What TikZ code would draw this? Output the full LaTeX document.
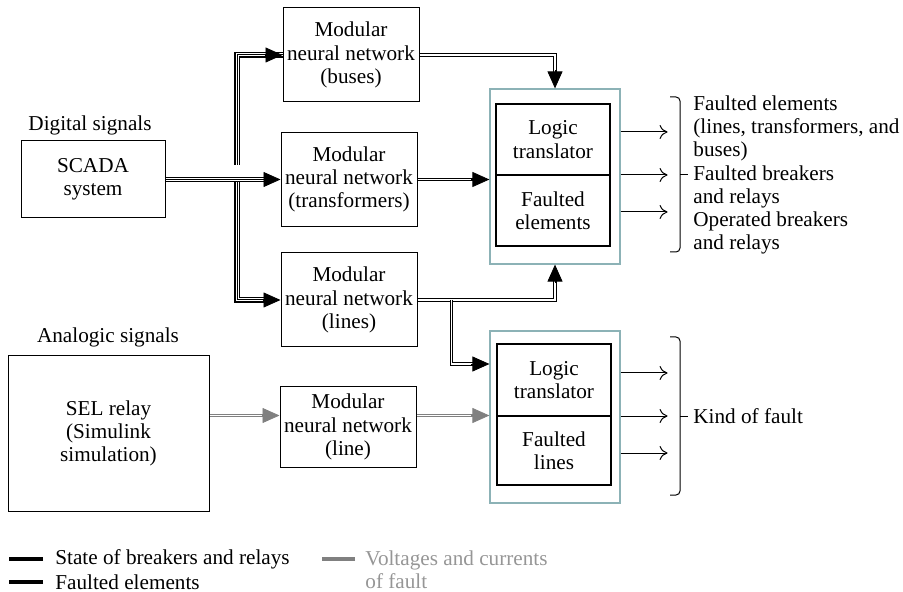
\documentclass[tikz,border=0pt]{standalone}
\usepackage{fontspec}
\setmainfont{Liberation Serif}
\usetikzlibrary{arrows.meta}

\definecolor{framecol}{RGB}{140,178,182}
\definecolor{analogcol}{RGB}{128,128,128}
\definecolor{legcol}{RGB}{150,150,150}

\begin{document}
\begin{tikzpicture}[x=0.5pt, y=-0.5pt,
		font=\fontsize{10.6}{11.6}\selectfont,
		lbl/.style={inner sep=0pt},
		mnn/.style={draw, line width=0.5pt, align=center, inner sep=0pt, minimum width=68pt, minimum height=47pt},
		frame/.style={draw=framecol, line width=0.6pt, inner sep=0pt, minimum width=65pt},
		inbox/.style={draw, line width=0.7pt, align=center, inner sep=0pt, minimum width=57pt},
		triple/.style={line width=2.6pt, shorten >=7pt, postaction={draw=white, line width=1.5pt}, postaction={draw=black, line width=0.5pt}},
		dbl/.style={double, double distance=0.9pt, line width=0.5pt, shorten >=7pt},
		gdbl/.style={dbl, draw=analogcol},
		head/.style={-{Triangle[length=8.5pt, width=7.5pt]}, line width=0.4pt},
		ghead/.style={head, draw=analogcol},
		outarr/.style={-{To[length=4pt, width=7pt]}, line width=0.5pt},
		legline/.style={line width=2pt}
	]
		\useasboundingbox (0,0) rectangle (903,592);
		
		\newcommand\sidebrace[4]{ %% argument 1: x-position, 2: top, 3: bottom, 4: tip
			\draw[line width=0.5pt, rounded corners=2pt] (#1,#2) -| (#1+10,#4) |- (#1,#3);
			\draw[line width=0.5pt] (#1+10,#4) -- ++(8,0);
		}
		
		%% sources
		\node[lbl] (diglbl) at (90,125) {Digital signals};
		\node[draw, line width=0.5pt, align=center, minimum width=72pt, minimum height=38.5pt] (scada) at (93,179.5) {SCADA\\system};
		\node[lbl] (analbl) at (108,337) {Analogic signals};
		\node[draw, line width=0.5pt, align=center, minimum width=100.5pt, minimum height=77.5pt] (sel) at (108.5,433.5) {SEL relay\\(Simulink\\simulation)};
		
		%% neural networks
		\node[mnn] (buses) at (351,55) {Modular\\neural network\\(buses)};
		\node[mnn] (trafo) at (349,179.5) {Modular\\neural network\\(transformers)};
		\node[mnn] (lines) at (349,300) {Modular\\neural network\\(lines)};
		\node[mnn, minimum height=40pt] (mnnline) at (348,427) {Modular\\neural network\\(line)};
		
		%% translators
		\node[frame, minimum height=87.5pt] (frame1) at (555,176.5) {};
		\node[inbox, minimum height=35.5pt] (logic1) at (553,139.5) {Logic\\translator};
		\node[inbox, minimum height=35.5pt] (fault1) at (553,210.5) {Faulted\\elements};
		\node[frame, minimum height=86pt] (frame2) at (555,417) {};
		\node[inbox, minimum height=36pt] (logic2) at (554,380) {Logic\\translator};
		\node[inbox, minimum height=34.5pt] (fault2) at (554,450.5) {Faulted\\lines};
		
		%% digital signals
		\coordinate (split) at (237,179.5);
		\draw[triple] (buses.west) -| (split);
		\draw[triple] (split) |- (lines.west);
		\draw[triple] (scada.east) -- (trafo.west);
		\draw[head] ([xshift=-9pt]buses.west) -- (buses.west);
		\draw[head] ([xshift=-9pt]trafo.west) -- (trafo.west);
		\draw[head] ([xshift=-9pt]lines.west) -- (lines.west);
		
		\coordinate (branch) at ([xshift=17pt]lines.east);
		\coordinate (in1) at (trafo.east -| frame1.west);
		\coordinate (in2) at ([yshift=26.5pt]frame2.west);
		\draw[dbl] (buses.east) -| (frame1.north);
		\draw[dbl] (trafo.east) -- (in1);
		\draw[dbl] (lines.east) -| (frame1.south);
		\draw[dbl] (branch) |- (in2);
		\draw[head] ([yshift=9pt]frame1.north) -- (frame1.north);
		\draw[head] ([xshift=-9pt]in1) -- (in1);
		\draw[head] ([yshift=-9pt]frame1.south) -- (frame1.south);
		\draw[head] ([xshift=-9pt]in2) -- (in2);
		
		%% analogic signals
		\coordinate (gin) at ([yshift=9pt]sel.east);
		\coordinate (gnet) at (gin -| mnnline.west);
		\coordinate (gout) at (gin -| mnnline.east);
		\coordinate (gtrans) at (gin -| frame2.west);
		\draw[gdbl] (gin) -- (gnet);
		\draw[gdbl] (gout) -- (gtrans);
		\draw[ghead] ([xshift=-9pt]gnet) -- (gnet);
		\draw[ghead] ([xshift=-9pt]gtrans) -- (gtrans);
		
		%% outputs
		\foreach \dy in {22.25, 0.75, -17.75}
			\draw[outarr] ([yshift=\dy pt]frame1.east) -- ++(47,0);
		\foreach \dy in {22, 0.5, -18}
			\draw[outarr] ([yshift=\dy pt]frame2.east) -- ++(47,0);
		\sidebrace{670}{97}{252}{175}
		\sidebrace{670}{337}{495}{416}
		\node[lbl, anchor=west, align=left] (out1) at (693,175) {Faulted elements\\(lines, transformers, and\\buses)\\Faulted breakers\\and relays\\Operated breakers\\and relays};
		\node[lbl, anchor=west] (out2) at (693,416) {Kind of fault};
		
		%% legend
		\node[lbl, anchor=west] (leg1) at (55,559) {State of breakers and relays};
		\node[lbl, anchor=west] (leg2) at (55,582) {Faulted elements};
		\node[lbl, anchor=west, align=left, text=legcol] (leg3) at (365,570) {Voltages and currents\\of fault};
		\draw[legline] ([xshift=-6pt]leg1.west) -- ++(-17pt,0);
		\draw[legline] ([xshift=-6pt]leg2.west) -- ++(-17pt,0);
		\draw[legline, draw=analogcol] ([xshift=-5pt, yshift=5.5pt]leg3.west) -- ++(-16.5pt,0);
	\end{tikzpicture}
\end{document}
